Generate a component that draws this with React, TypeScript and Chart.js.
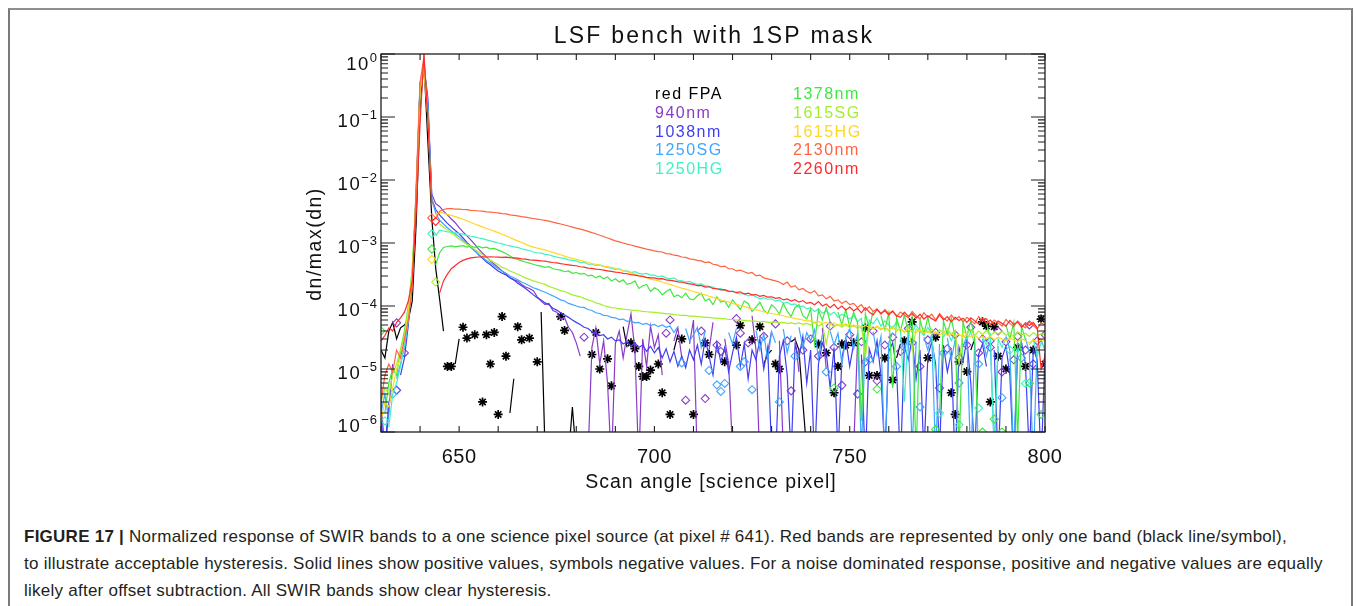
import React, { useEffect, useRef } from "react";
import { Chart, registerables } from "chart.js";

Chart.register(...registerables);

// Science-pixel axis: one sample per pixel, 630 … 800
const FIRST_PIXEL = 630;
const X_MIN = 630;
const X_MAX = 800;
const X_TICK_LABELS = [650, 700, 750, 800];
const Y_DECADES = [0, -1, -2, -3, -4, -5, -6];

// Normalized response dn/max(dn); negative entries are drawn as symbols at |value|
const RED_FPA = [
  2e-5, 1.5e-5, 4e-5, 5.5e-5, 3e-5, 4.5e-5, 5e-5, 6e-5, 1.2e-4, 2e-3,
  0.15, 0.72, 0.04, 2.5e-3, 4e-4, 1.3e-4, 4e-5, -1.1e-5, -1.1e-5, 1.2e-5,
  3e-5, -4.6e-5, -3.1e-5, -5e-7, -3.5e-5, -5e-7, -3e-6, -3.5e-5, -1.2e-5, -3.8e-5,
  -1.9e-6, -6.8e-5, -1.6e-5, 2e-6, 7e-6, -4.7e-5, -2.9e-5, -5e-7, -3.1e-5, -5e-7,
  -1.3e-5, 8e-5, 5e-7, -5e-7, -5e-7, -5e-7, -6.8e-5, -4.1e-5, 4e-7, 2.5e-6,
  4e-7, -5e-7, -5e-7, -5e-7, -1.7e-5, -3.8e-5, -1e-5, -5e-7, -1.45e-5, -5.4e-6,
  -5e-7, -5e-7, 4.7e-5, 2.2e-5, -2.6e-5, -2.1e-5, -1.1e-5, -7.6e-6, -7.6e-6, -9.6e-6,
  -5e-7, -1.2e-5, -4.2e-6, -5e-7, -1.9e-6, 2e-5, 3.5e-5, -3e-5, -5e-7, -5e-7,
  -1.9e-6, -5e-7, -5e-7, -2.6e-5, -1.7e-5, -5e-7, -5e-7, -5e-7, -1.3e-5, -5e-7,
  -5e-7, -2.4e-5, -4.9e-5, -5e-7, -5e-7, -2.9e-5, -5e-7, -4.7e-5, 1.2e-5, 1.7e-5,
  2e-5, -1.2e-5, -1e-5, -5e-7, -5e-7, 2.7e-5, 3e-5, 2e-5, 3e-6, 5e-7,
  -5e-7, -5e-7, -2.5e-5, -5e-7, -1.8e-5, -5e-7, -4.2e-6, -1.1e-5, -2.5e-5, -2.4e-5,
  -5e-7, -2.6e-5, -5e-7, -5e-7, -4.5e-5, -7.9e-6, -5e-7, -7.9e-6, -5e-7, -1.5e-5,
  -5e-7, -6.7e-6, 1.5e-5, 2.5e-5, -2.8e-5, -5e-7, -5.6e-5, -5e-7, -5e-7, -5e-7,
  -1.5e-5, -5e-7, -3.2e-5, -5e-7, -5e-7, -5e-7, -4.2e-6, -1.9e-6, -1.3e-5, -5e-7,
  -9.1e-6, 2e-5, 3e-5, -5e-7, -5.6e-5, -4.8e-5, -3e-6, -4.7e-5, -1.6e-5, -5e-7,
  -1e-5, -5e-7, -5e-7, -2.2e-5, -5e-7, -1.1e-5, -5e-7, -2e-5, -5e-7, -6.2e-5,
  -1.2e-5,
];

const NM940 = [
  3e-6, 5e-7, 2e-6, 1.2e-5, -5.4e-5, 1.5e-5, -1.8e-5, 8e-5, 3e-4, 5e-3,
  0.3, 0.7, 0.15, 6e-3, 4.2e-3, 3.8e-3, 3.2e-3, 2.8e-3, 2.4e-3, 2.1e-3,
  1.75e-3, 1.5e-3, 1.3e-3, 1.12e-3, 9.5e-4, 8e-4, 6.9e-4, 6e-4, 5.2e-4, 4.6e-4,
  4.1e-4, 3.6e-4, 3.2e-4, 2.8e-4, 2.6e-4, 2.5e-4, 2.2e-4, 2e-4, 1.9e-4, 1.75e-4,
  1.4e-4, 1.2e-4, 1.05e-4, 1.1e-4, 8.5e-5, 8e-5, 6.2e-5, 6.5e-5, 4.6e-5, 3.8e-5,
  2.6e-5, 1.6e-5, -3.2e-5, 4e-7, 2.2e-5, 4.5e-5, 1.2e-5, 2.8e-5, 6e-6, 3e-7,
  2.5e-5, 4e-5, 1.5e-5, 3.5e-5, 7.5e-5, 2e-5, 3e-7, 3e-5, 1.1e-5, 4.8e-5,
  2.2e-5, 3.5e-5, 8e-6, -3.7e-5, -6e-5, 2.8e-5, 4.5e-5, 1.5e-5, -3.2e-6, 2.5e-5,
  6e-5, 3e-7, -4e-5, -3.4e-6, 2e-5, 5.5e-5, -2.4e-5, -1.9e-5, 3e-5, 1.2e-5,
  5e-7, -6.3e-5, -3.7e-5, 3.5e-5, -2.6e-5, 7e-5, 2e-5, 3e-7, -3.3e-5, 1.8e-5,
  4e-5, -5.2e-5, 2.8e-5, 5e-7, -2.8e-5, -4.5e-6, 3.2e-5, 9e-6, -2e-5, 3e-7,
  -3e-5, 2.5e-5, -1.6e-5, 4.5e-5, 1e-5, -4.8e-5, -2.2e-5, 3e-5, -5.5e-6, 2e-5,
  -3.5e-5, 5e-7, 2.6e-5, -2.7e-5, -1.3e-5, 3e-5, -4e-5, -6.5e-6, 2.2e-5, -2.4e-5,
  4e-7, -3.2e-5, 1.8e-5, -1.9e-5, 3.5e-5, -4.4e-5, -2.6e-5, 5e-7, -1.1e-5, 2.6e-5,
  -2.9e-5, 2e-5, -3.8e-5, -5e-6, 3e-7, -2.1e-5, 2.8e-5, -3.5e-5, -1.5e-5, 5e-7,
  -2.4e-5, -4.6e-5, 2.5e-5, -1.8e-5, -3e-5, 5e-7, -2.2e-5, 1.6e-5, -4e-5, -9e-6,
  -2.7e-5, 3e-5, -1.4e-5, -3.3e-5, 5e-7, -2e-5, -5e-5, -1.2e-5, -2.8e-5, 5e-7,
  -3.5e-5,
];

const NM1038 = [
  1.5e-6, 5e-7, 3e-6, 4e-6, -4.6e-6, 8e-6, 1.5e-5, 5e-5, 2.5e-4, 6e-3,
  0.35, 0.65, 0.2, 5e-3, 3.4e-3, 2.8e-3, 2.4e-3, 2.05e-3, 1.8e-3, 1.58e-3,
  1.4e-3, 1.2e-3, 1.02e-3, 8.8e-4, 7.6e-4, 6.5e-4, 5.7e-4, 5e-4, 4.5e-4, 4e-4,
  3.6e-4, 3.3e-4, 3.1e-4, 2.8e-4, 2.6e-4, 2.3e-4, 2.1e-4, 1.9e-4, 1.7e-4, 1.5e-4,
  1.35e-4, 1.25e-4, 1.12e-4, 1.05e-4, 9.2e-5, 8.6e-5, 7.8e-5, 7.2e-5, 6.6e-5, 6e-5,
  5.5e-5, 5.1e-5, 4.6e-5, 4.4e-5, 3.9e-5, 3.7e-5, 3.4e-5, 3.5e-5, 3e-5, 3.2e-5,
  2.8e-5, 2.9e-5, 2.5e-5, 2.7e-5, 2.3e-5, 2.6e-5, 2.2e-5, 2.4e-5, 1.9e-5, 2.3e-5,
  1.8e-5, 2.2e-5, 1.5e-5, 2.1e-5, 1.3e-5, 1.9e-5, 1.1e-5, 1.6e-5, 1.05e-5, 2e-5,
  1.4e-5, 2.4e-5, 1.2e-5, 3e-5, 1.6e-5, 8e-6, 2.6e-5, 1.3e-5, 2.2e-5, 9e-6,
  1.8e-5, 3.2e-5, 1.1e-5, 2.5e-5, 7e-6, 2e-5, 1.4e-5, 3e-5, 1e-5, 2.2e-5,
  5e-7, 3e-7, 1.6e-5, 2.8e-5, 8e-6, 4e-7, 2.4e-5, 1.5e-5, 3.3e-5, 6e-6,
  2e-5, 3e-7, 1.2e-5, 2.6e-5, 1.8e-5, 5e-6, 2.2e-5, 4e-7, 1.5e-5, 3e-5,
  1.1e-5, 2.5e-5, -4e-6, 1.7e-5, 3e-7, 2.1e-5, 1.3e-5, 2.8e-5, 8e-6, 4e-7,
  1.9e-5, 2.6e-5, 1e-5, 3e-7, 2.3e-5, 1.4e-5, 3.1e-5, 7e-6, 2e-5, 4e-7,
  1.6e-5, 2.7e-5, 1.2e-5, 5e-7, 2.4e-5, 9e-6, 1.8e-5, 3e-7, 2.2e-5, 1.3e-5,
  2.9e-5, 6e-6, 4e-7, 1.7e-5, 2.5e-5, 1.1e-5, -2.8e-5, 2e-5, 3e-7, 1.5e-5,
  2.3e-5, 8e-6, 3e-7, 1.9e-5, 2.6e-5, 1.2e-5, 4e-7, 2.1e-5, 1.4e-5, 3e-7,
  1.8e-5,
];

const SG1250 = [
  2e-6, 4e-6, 1.5e-6, -4e-6, 7e-6, 1.2e-5, 2.2e-5, 6e-5, 2.8e-4, 5e-3,
  0.3, 0.68, 0.15, 5e-3, 3e-3, 2.3e-3, 2e-3, 1.75e-3, 1.55e-3, 1.4e-3,
  1.25e-3, 1.1e-3, 9.6e-4, 8.5e-4, 7.5e-4, 6.6e-4, 5.9e-4, 5.3e-4, 4.8e-4, 4.3e-4,
  3.9e-4, 3.6e-4, 3.3e-4, 3e-4, 2.8e-4, 2.6e-4, 2.4e-4, 2.25e-4, 2.1e-4, 1.95e-4,
  1.85e-4, 1.75e-4, 1.65e-4, 1.55e-4, 1.45e-4, 1.35e-4, 1.25e-4, 1.2e-4, 1.1e-4, 1.05e-4,
  1e-4, 9.6e-5, 9.5e-5, 8.8e-5, 8.5e-5, 7.8e-5, 7.6e-5, 7.1e-5, 7e-5, 6.6e-5,
  6.5e-5, 6.1e-5, 6.2e-5, 5.7e-5, 5.8e-5, 5.4e-5, 5.5e-5, 5.1e-5, 5.3e-5, 4.9e-5,
  5.1e-5, 4.7e-5, 5e-5, 4.6e-5, 4.8e-5, 3.8e-5, 4.7e-5, -1.25e-5, 4.4e-5, 2.8e-5,
  3.5e-5, 4.6e-5, 2.2e-5, 4e-5, -9.5e-6, 3.2e-5, -5.6e-6, -4.4e-6, -5.9e-6, 3.8e-5,
  2.5e-5, 4.4e-5, -1.1e-5, -1.3e-5, 3e-5, -4.7e-6, 4.1e-5, 2e-5, 3.6e-5, 1.4e-5,
  3.9e-5, 2.6e-5, -3e-6, 4.3e-5, 1.8e-5, 3.4e-5, -1.6e-5, 4.6e-5, 2.2e-5, 3.8e-5,
  2.8e-5, 4.2e-5, 1.5e-5, 3.5e-5, -9e-6, 4e-5, 2.4e-5, 3.7e-5, 1.2e-5, 3.1e-5,
  4.4e-5, 2.1e-5, 3.6e-5, 5e-7, 2.9e-5, -1.4e-5, 3.9e-5, 1.7e-5, 3.3e-5, 3e-7,
  2.6e-5, 3.8e-5, -1.1e-5, 3e-5, 1.9e-5, 3.5e-5, 5e-7, 2.7e-5, -2.5e-6, 3.2e-5,
  2e-5, 3.6e-5, 4e-7, 2.5e-5, -1.8e-5, 3.1e-5, 1.4e-5, 2.9e-5, -6e-6, 2.2e-5,
  3.4e-5, 3e-7, 2.6e-5, -1.2e-5, 3e-5, 1.6e-5, 2.8e-5, 5e-7, 2.3e-5, -3.5e-6,
  3.3e-5, 2e-5, 4e-7, 2.7e-5, -1.5e-5, 3.1e-5, 1.8e-5, 3e-7, 2.4e-5, 2.9e-5,
  2e-5,
];

const HG1250 = [
  2e-6, -1.5e-6, 1.2e-6, 4e-6, 6e-6, 1.1e-5, 2.5e-5, 6e-5, 2.8e-4, 6e-3,
  0.3, 0.7, 0.12, -1.4e-3, 1.3e-3, 1.6e-3, 1.55e-3, 1.5e-3, 1.48e-3, 1.45e-3,
  1.42e-3, 1.38e-3, 1.32e-3, 1.28e-3, 1.25e-3, 1.2e-3, 1.17e-3, 1.12e-3, 1.08e-3, 1.04e-3,
  1e-3, 9.7e-4, 9.3e-4, 9e-4, 8.7e-4, 8.5e-4, 8.1e-4, 7.8e-4, 7.6e-4, 7.2e-4,
  7e-4, 6.9e-4, 6.6e-4, 6.5e-4, 6.2e-4, 6e-4, 5.8e-4, 5.7e-4, 5.4e-4, 5.3e-4,
  5.2e-4, 4.9e-4, 4.9e-4, 4.6e-4, 4.6e-4, 4.4e-4, 4.5e-4, 4.2e-4, 4.1e-4, 4e-4,
  3.8e-4, 3.9e-4, 3.6e-4, 3.6e-4, 3.4e-4, 3.5e-4, 3.3e-4, 3.2e-4, 3.3e-4, 3.1e-4,
  3.1e-4, 2.9e-4, 3e-4, 2.8e-4, 2.7e-4, 2.8e-4, 2.55e-4, 2.5e-4, 2.4e-4, 2.45e-4,
  2.3e-4, 2.2e-4, 2.25e-4, 2.1e-4, 2.05e-4, 2e-4, 1.85e-4, 1.9e-4, 1.75e-4, 1.7e-4,
  1.72e-4, 1.6e-4, 1.55e-4, 1.58e-4, 1.45e-4, 1.5e-4, 1.4e-4, 1.3e-4, 1.36e-4, 1.28e-4,
  1.3e-4, 1.2e-4, 1.25e-4, 1.1e-4, 1.15e-4, 1.05e-4, 1.08e-4, 9.5e-5, 1e-4, 9e-5,
  9.4e-5, 8.2e-5, 9e-5, 7.6e-5, 8.4e-5, 7.2e-5, 8e-5, 6.6e-5, 7.4e-5, 6.8e-5,
  6.2e-5, 7e-5, 5.6e-5, 6.4e-5, 2e-5, 6e-5, 5.2e-5, 6.4e-5, 4.8e-5, 5.8e-5,
  5e-5, 4.4e-5, 5.6e-5, 4.2e-5, 3e-6, 4.8e-5, 3.8e-5, 5e-5, 4e-5, 3.4e-5,
  4.6e-5, 3.5e-5, 8e-6, -2e-6, 3.2e-5, 4e-5, 2.8e-5, 3.8e-5, -1.3e-6, 3.4e-5,
  3e-5, 3.8e-5, 2.6e-5, -2.4e-6, 3.2e-5, 2.4e-5, 3.5e-5, 5e-7, 3e-5, 2.2e-5,
  3.2e-5, -2e-5, 2.5e-5, 1.8e-5, 2.9e-5, -5.9e-6, 2.4e-5, 3e-5, 1.6e-5, 2.6e-5,
  2.2e-5,
];

const NM1378 = [
  -4e-5, 2e-6, 6e-6, 1e-5, 8e-6, 2e-5, 4e-5, 1e-4, 4e-4, 6e-3,
  0.3, 0.75, 0.12, -8e-4, 4.5e-4, 7e-4, 8.5e-4, 8.8e-4, 9e-4, 8.7e-4,
  8.9e-4, 9.1e-4, 8.6e-4, 9e-4, 8.5e-4, 8.8e-4, 8.4e-4, 8.6e-4, 8.1e-4, 8.2e-4,
  7.7e-4, 7.3e-4, 6.8e-4, 6.2e-4, 5.7e-4, 5.5e-4, 5.2e-4, 5e-4, 4.8e-4, 4.6e-4,
  4.4e-4, 4.3e-4, 4.1e-4, 4.2e-4, 3.9e-4, 3.8e-4, 3.7e-4, 3.5e-4, 3.6e-4, 3.3e-4,
  3.4e-4, 3.2e-4, 3.3e-4, 3e-4, 3.1e-4, 2.8e-4, 3e-4, 2.7e-4, 2.9e-4, 2.5e-4,
  2.7e-4, 2.4e-4, 2.6e-4, 2.2e-4, 2.3e-4, 2.5e-4, 1.9e-4, 2.1e-4, 2.2e-4, 1.7e-4,
  1.95e-4, 1.8e-4, 1.5e-4, 1.7e-4, 1.85e-4, 1.4e-4, 1.5e-4, 1.35e-4, 1.6e-4, 1.3e-4,
  1.25e-4, 1.45e-4, 1.6e-4, 1.2e-4, 1.3e-4, 1.05e-4, 1.4e-4, 1.15e-4, 1.2e-4, 9.5e-5,
  1.25e-4, 1.05e-4, 8.8e-5, 1.2e-4, 1.1e-4, 8.2e-5, 9.6e-5, 1.15e-4, 8.6e-5, 7.6e-5,
  1.05e-4, 9.2e-5, 7.4e-5, 1.1e-4, 8.3e-5, 6.8e-5, 9.5e-5, 1.05e-4, 7e-5, 6.2e-5,
  9e-5, 2.5e-5, 8.5e-5, 6e-5, 9.5e-5, 5.5e-5, -5e-6, 8e-5, 5e-5, 8.8e-5,
  4.6e-5, 8e-5, 5.5e-5, 1.5e-6, 7.5e-5, 4.4e-5, 8.2e-5, -4.8e-6, 7e-5, 4.2e-5,
  7.8e-5, 5e-6, 6.5e-5, 4e-5, 7.2e-5, 3.8e-5, 6.8e-5, 4e-7, 6e-5, 3.6e-5,
  6.6e-5, 3.4e-5, -1.1e-6, 2e-6, 5.8e-5, 3.5e-5, 6.4e-5, 3.2e-5, 5e-7, 5.6e-5,
  3.3e-5, 6e-5, 3e-5, 4e-7, -1e-6, 5.4e-5, 3.1e-5, -1.6e-6, 5.6e-5, -1e-6,
  5e-5, 3e-5, 5.5e-5, 8e-7, 4.8e-5, 2.9e-5, -6e-6, 5.2e-5, 4.5e-5, -1.9e-6,
  4.2e-5,
];

const SG1615 = [
  3e-6, 5e-6, 4e-6, 8e-6, 1.2e-5, 2e-5, 3.5e-5, 9e-5, 3e-4, 5e-3,
  0.28, 0.65, 0.1, 4e-3, -2.4e-4, 2e-3, 1.8e-3, 1.6e-3, 1.45e-3, 1.3e-3,
  1.15e-3, 1.05e-3, 9.6e-4, 8.8e-4, 7.9e-4, 7.2e-4, 6.5e-4, 5.9e-4, 5.3e-4, 4.9e-4,
  4.5e-4, 4.1e-4, 3.9e-4, 3.6e-4, 3.4e-4, 3.2e-4, 3e-4, 2.8e-4, 2.65e-4, 2.5e-4,
  2.4e-4, 2.3e-4, 2.2e-4, 2.05e-4, 1.95e-4, 1.85e-4, 1.75e-4, 1.7e-4, 1.6e-4, 1.5e-4,
  1.45e-4, 1.4e-4, 1.32e-4, 1.25e-4, 1.2e-4, 1.12e-4, 1.08e-4, 1.02e-4, 9.8e-5, 9.4e-5,
  9.3e-5, 9.1e-5, 8.9e-5, 8.8e-5, 8.6e-5, 8.5e-5, 8.4e-5, 8.2e-5, 8.1e-5, 8e-5,
  7.9e-5, 7.8e-5, 7.7e-5, 7.5e-5, 7.5e-5, 7.3e-5, 7.2e-5, 7.1e-5, 7.1e-5, 6.9e-5,
  6.9e-5, 6.8e-5, 6.7e-5, 6.6e-5, 6.6e-5, 6.4e-5, 6.4e-5, 6.3e-5, 6.3e-5, 6.1e-5,
  6.1e-5, 6e-5, 6e-5, 5.9e-5, 5.8e-5, 5.8e-5, 5.7e-5, 5.6e-5, 5.7e-5, 5.5e-5,
  5.5e-5, 5.6e-5, 5.4e-5, 5.5e-5, 5.3e-5, 5.4e-5, 5.2e-5, 5.4e-5, 5.1e-5, 5.3e-5,
  5e-5, 5.5e-5, 4.8e-5, 5.2e-5, 2.5e-5, 5.3e-5, 4.7e-5, 5.1e-5, 4.6e-5, 5.2e-5,
  4.5e-5, 5e-5, 4.4e-5, 4.9e-5, 1.5e-5, 4.8e-5, 4.3e-5, 4.7e-5, 4.2e-5, 4.6e-5,
  4.1e-5, 4.8e-5, 4e-5, 4.5e-5, 3.8e-5, 4.6e-5, 2e-5, 4.3e-5, 3.9e-5, 4.4e-5,
  3.8e-5, 4.3e-5, 3.6e-5, 4.2e-5, 3.7e-5, 4.4e-5, 3.5e-5, 4.1e-5, 1.2e-5, 4e-5,
  3.6e-5, 4.2e-5, 3.4e-5, 4e-5, 3.5e-5, 4.1e-5, 3.3e-5, 3.9e-5, 3.6e-5, 4e-5,
  3.4e-5, 3.8e-5, 3.2e-5, 3.9e-5, 3.5e-5, 3.7e-5, 3.3e-5, 3.8e-5, 3.4e-5, 3.6e-5,
  3.5e-5,
];

const HG1615 = [
  1.5e-6, 3e-6, 2.5e-6, 5e-6, 1e-5, 1.5e-5, 3e-5, 8e-5, 3.5e-4, 5e-3,
  0.25, 0.6, 0.1, -5.5e-4, 2.8e-3, 3.1e-3, 2.95e-3, 2.85e-3, 2.75e-3, 2.62e-3,
  2.5e-3, 2.38e-3, 2.25e-3, 2.12e-3, 2e-3, 1.9e-3, 1.8e-3, 1.7e-3, 1.62e-3, 1.54e-3,
  1.46e-3, 1.38e-3, 1.3e-3, 1.22e-3, 1.14e-3, 1.08e-3, 1.02e-3, 9.6e-4, 9e-4, 8.6e-4,
  8.3e-4, 8e-4, 7.8e-4, 7.4e-4, 7.1e-4, 6.8e-4, 6.5e-4, 6.2e-4, 5.9e-4, 5.7e-4,
  5.5e-4, 5.3e-4, 5.1e-4, 4.9e-4, 4.7e-4, 4.6e-4, 4.45e-4, 4.3e-4, 4.2e-4, 4.1e-4,
  3.95e-4, 3.8e-4, 3.65e-4, 3.5e-4, 3.35e-4, 3.2e-4, 3.05e-4, 2.95e-4, 2.8e-4, 2.7e-4,
  2.6e-4, 2.5e-4, 2.4e-4, 2.3e-4, 2.2e-4, 2.1e-4, 2e-4, 1.92e-4, 1.85e-4, 1.78e-4,
  1.7e-4, 1.63e-4, 1.56e-4, 1.5e-4, 1.43e-4, 1.37e-4, 1.31e-4, 1.25e-4, 1.2e-4, 1.15e-4,
  1.1e-4, 1.06e-4, 1.02e-4, 9.8e-5, 9.4e-5, 9e-5, 8.7e-5, 8.4e-5, 8.1e-5, 7.8e-5,
  7.6e-5, 7.4e-5, 7.2e-5, 7e-5, 6.7e-5, 6.6e-5, 6.3e-5, 6.2e-5, 6e-5, 5.8e-5,
  5.8e-5, 5.5e-5, 5.7e-5, 5.3e-5, 5.5e-5, 5.1e-5, 5.4e-5, 4.9e-5, 5.2e-5, 4.8e-5,
  5.1e-5, 4.7e-5, 5e-5, 4.5e-5, 4.9e-5, 4.6e-5, 4.4e-5, 4.8e-5, 4.3e-5, 4.6e-5,
  4.2e-5, 4.5e-5, 4.1e-5, 4.4e-5, 3.9e-5, 4.3e-5, 4e-5, 3.8e-5, 4.2e-5, 3.7e-5,
  4e-5, 3.6e-5, 3.9e-5, 3.5e-5, 3.8e-5, 3.4e-5, 3.7e-5, 3.3e-5, 3.6e-5, 3.2e-5,
  3.5e-5, 3.2e-5, 3.4e-5, 3.1e-5, 3.3e-5, 3e-5, 3.3e-5, 2.9e-5, 3.2e-5, 3e-5,
  2.8e-5, 3.1e-5, 2.9e-5, 2.7e-5, 3e-5, 2.8e-5, 2.6e-5, 2.9e-5, 2.7e-5, 2.9e-5,
  2.8e-5,
];

const NM2130 = [
  3e-6, 8e-6, 1.2e-5, 9e-6, 2e-5, 1.5e-5, 3e-5, 6e-5, 2e-4, 8e-3,
  0.35, 0.9, 0.1, -2.5e-3, 2.4e-3, 3.2e-3, 3.4e-3, 3.5e-3, 3.5e-3, 3.45e-3,
  3.45e-3, 3.4e-3, 3.38e-3, 3.3e-3, 3.28e-3, 3.22e-3, 3.2e-3, 3.12e-3, 3.08e-3, 3.05e-3,
  3e-3, 2.92e-3, 2.9e-3, 2.8e-3, 2.75e-3, 2.7e-3, 2.62e-3, 2.58e-3, 2.5e-3, 2.45e-3,
  2.4e-3, 2.34e-3, 2.28e-3, 2.22e-3, 2.14e-3, 2.07e-3, 2e-3, 1.93e-3, 1.86e-3, 1.79e-3,
  1.72e-3, 1.66e-3, 1.6e-3, 1.53e-3, 1.46e-3, 1.4e-3, 1.33e-3, 1.27e-3, 1.2e-3, 1.14e-3,
  1.08e-3, 1.04e-3, 1e-3, 9.6e-4, 9.3e-4, 8.9e-4, 8.6e-4, 8.3e-4, 8e-4, 7.8e-4,
  7.5e-4, 7.3e-4, 7.2e-4, 6.8e-4, 6.7e-4, 6.4e-4, 6.3e-4, 6e-4, 5.9e-4, 5.6e-4,
  5.5e-4, 5.3e-4, 5.2e-4, 4.9e-4, 5e-4, 4.6e-4, 4.5e-4, 4.2e-4, 4.3e-4, 3.9e-4,
  3.9e-4, 3.6e-4, 3.7e-4, 3.5e-4, 3.3e-4, 3.4e-4, 3e-4, 3.1e-4, 2.8e-4, 2.7e-4,
  2.6e-4, 2.5e-4, 2.4e-4, 2.2e-4, 2.4e-4, 2e-4, 2.1e-4, 1.8e-4, 1.9e-4, 1.7e-4,
  1.6e-4, 1.75e-4, 1.45e-4, 1.5e-4, 1.3e-4, 1.42e-4, 1.2e-4, 1.25e-4, 1.1e-4, 1.2e-4,
  1.05e-4, 1.1e-4, 9.5e-5, 1.05e-4, 8.5e-5, 9.8e-5, 8.2e-5, 9e-5, 7.4e-5, 8.8e-5,
  7.6e-5, 8.4e-5, 6.8e-5, 8e-5, 7.2e-5, 6.5e-5, 8.2e-5, 7e-5, 6.2e-5, 7.8e-5,
  6.6e-5, 7.4e-5, 6e-5, 7.6e-5, 6.4e-5, 5.8e-5, 7.2e-5, 6.1e-5, 6.8e-5, 5.6e-5,
  6.6e-5, 5.9e-5, 5.2e-5, 6.8e-5, 5.7e-5, 6.3e-5, 5.1e-5, 6e-5, 5.4e-5, 4.8e-5,
  6.1e-5, 5.3e-5, 4.7e-5, 5.8e-5, 5e-5, 4.5e-5, 5.6e-5, 4.9e-5, 4.3e-5, 5.4e-5,
  5e-5,
];

const NM2260 = [
  2.8e-5, 3.4e-5, 4.5e-5, 4e-5, 5.5e-5, 6.5e-5, 8e-5, 1.2e-4, 2.5e-4, 3e-3,
  0.08, 1.0, 0.09, 4e-3, -2.2e-3, 1.6e-4, 2.5e-4, 3.2e-4, 3.9e-4, 4.4e-4,
  4.9e-4, 5.3e-4, 5.6e-4, 5.8e-4, 5.9e-4, 6e-4, 6.05e-4, 6e-4, 6.05e-4, 6e-4,
  5.95e-4, 5.9e-4, 5.95e-4, 5.85e-4, 5.8e-4, 5.75e-4, 5.6e-4, 5.55e-4, 5.4e-4, 5.35e-4,
  5.3e-4, 5.2e-4, 5.15e-4, 5e-4, 4.9e-4, 4.85e-4, 4.7e-4, 4.6e-4, 4.5e-4, 4.4e-4,
  4.35e-4, 4.2e-4, 4.15e-4, 4e-4, 3.95e-4, 3.85e-4, 3.8e-4, 3.7e-4, 3.6e-4, 3.55e-4,
  3.45e-4, 3.4e-4, 3.3e-4, 3.25e-4, 3.15e-4, 3.1e-4, 3e-4, 2.95e-4, 2.85e-4, 2.8e-4,
  2.8e-4, 2.7e-4, 2.72e-4, 2.6e-4, 2.55e-4, 2.5e-4, 2.42e-4, 2.4e-4, 2.3e-4, 2.25e-4,
  2.2e-4, 2.1e-4, 2.12e-4, 2e-4, 2.02e-4, 1.9e-4, 1.88e-4, 1.8e-4, 1.82e-4, 1.72e-4,
  1.7e-4, 1.64e-4, 1.68e-4, 1.55e-4, 1.6e-4, 1.5e-4, 1.52e-4, 1.42e-4, 1.47e-4, 1.38e-4,
  1.4e-4, 1.32e-4, 1.36e-4, 1.25e-4, 1.3e-4, 1.2e-4, 1.26e-4, 1.15e-4, 1.22e-4, 1.1e-4,
  1.14e-4, 1.05e-4, 1.18e-4, 1e-4, 1.08e-4, 9.4e-5, 1.06e-4, 9e-5, 1e-4, 8.6e-5,
  9.6e-5, 8.4e-5, 9.2e-5, 7.8e-5, 9.4e-5, 8e-5, 7.2e-5, 8.8e-5, 7.6e-5, 8.4e-5,
  7.2e-5, 8.2e-5, 7e-5, 6.6e-5, 8e-5, 6.9e-5, 7.6e-5, 6.4e-5, 7.4e-5, 6.2e-5,
  7e-5, 6.3e-5, 5.8e-5, 7.2e-5, 6e-5, 6.8e-5, 5.6e-5, 6.6e-5, 5.9e-5, 6.4e-5,
  5.5e-5, 6.5e-5, 5.8e-5, 5.2e-5, 6.3e-5, 5.4e-5, 6e-5, 5e-5, 5.8e-5, 5.3e-5,
  4.8e-5, 5.9e-5, 5.1e-5, 5.6e-5, 4.6e-5, 5.4e-5, 4.9e-5, 5.5e-5, 4.5e-5, 1e-5,
  1.6e-5,
];

type Band = {
  label: string;
  color: string;
  values: number[];
  symbol: "star" | "rectRot";
};

// Plotting order as overplotted: red FPA first, 2260nm last (on top)
const BANDS: Band[] = [
  { label: "red FPA", color: "#000000", values: RED_FPA, symbol: "star" },
  { label: "940nm", color: "#8a3cc8", values: NM940, symbol: "rectRot" },
  { label: "1038nm", color: "#3f3ff0", values: NM1038, symbol: "rectRot" },
  { label: "1250SG", color: "#3fa6ff", values: SG1250, symbol: "rectRot" },
  { label: "1250HG", color: "#3ff2c4", values: HG1250, symbol: "rectRot" },
  { label: "1378nm", color: "#3fe83f", values: NM1378, symbol: "rectRot" },
  { label: "1615SG", color: "#a6ee2c", values: SG1615, symbol: "rectRot" },
  { label: "1615HG", color: "#ffd824", values: HG1615, symbol: "rectRot" },
  { label: "2130nm", color: "#ff6440", values: NM2130, symbol: "rectRot" },
  { label: "2260nm", color: "#ff2a2a", values: NM2260, symbol: "rectRot" },
];

const CANVAS_W = 1356;
const CANVAS_H = 500;
const PLOT = { left: 381, top: 54, right: 1045, bottom: 432 };
const IDL_FONT = '"Liberation Sans", Arial, sans-serif';

function setSpacing(ctx: CanvasRenderingContext2D, px: number) {
  (ctx as any).letterSpacing = `${px}px`;
}

// Boxed IDL-style frame: inward ticks on all four sides plus all text
const idlFrame = {
  id: "idlFrame",
  afterDatasetsDraw(chart: any) {
    const { ctx, chartArea: a, scales } = chart;
    const xs = scales.x;
    const ys = scales.y;
    ctx.save();
    ctx.strokeStyle = "#1e1e1e";
    ctx.lineWidth = 1.3;
    ctx.strokeRect(a.left, a.top, a.right - a.left, a.bottom - a.top);

    ctx.lineWidth = 1.1;
    ctx.beginPath();
    for (let v = X_MIN; v <= X_MAX; v += 10) {
      const px = xs.getPixelForValue(v);
      ctx.moveTo(px, a.bottom);
      ctx.lineTo(px, a.bottom - 6);
      ctx.moveTo(px, a.top);
      ctx.lineTo(px, a.top + 6);
    }
    for (const d of Y_DECADES) {
      const major = ys.getPixelForValue(Math.pow(10, d));
      ctx.moveTo(a.left, major);
      ctx.lineTo(a.left + 14, major);
      ctx.moveTo(a.right, major);
      ctx.lineTo(a.right - 14, major);
      if (d < 0) {
        for (let m = 2; m <= 9; m++) {
          const py = ys.getPixelForValue(m * Math.pow(10, d));
          ctx.moveTo(a.left, py);
          ctx.lineTo(a.left + 7, py);
          ctx.moveTo(a.right, py);
          ctx.lineTo(a.right - 7, py);
        }
      }
    }
    ctx.stroke();

    ctx.fillStyle = "#111";
    // x tick labels
    ctx.font = `20px ${IDL_FONT}`;
    setSpacing(ctx, 0.5);
    ctx.textAlign = "center";
    ctx.textBaseline = "alphabetic";
    for (const v of X_TICK_LABELS) {
      ctx.fillText(String(v), xs.getPixelForValue(v), 463);
    }

    // y tick labels 10^d
    for (const d of Y_DECADES) {
      const tickY = ys.getPixelForValue(Math.pow(10, d));
      let mid = tickY + 3;
      if (d === 0) mid = 63;
      if (d === -6) mid = 425;
      const exp = d === 0 ? "0" : "\u2212" + String(-d);
      ctx.font = `13px ${IDL_FONT}`;
      setSpacing(ctx, 1);
      ctx.textAlign = "right";
      const ew = ctx.measureText(exp).width;
      ctx.fillText(exp, 378, mid - 1.5);
      ctx.font = `18.5px ${IDL_FONT}`;
      setSpacing(ctx, 1.5);
      ctx.fillText("10", 378 - ew, mid + 6.5);
    }

    // title
    ctx.font = `23px ${IDL_FONT}`;
    setSpacing(ctx, 2.2);
    ctx.textAlign = "center";
    ctx.fillText("LSF bench with 1SP mask", 714, 43);

    // axis titles
    ctx.font = `19.5px ${IDL_FONT}`;
    setSpacing(ctx, 1.0);
    ctx.fillText("Scan angle [science pixel]", 711, 488);
    ctx.save();
    ctx.translate(321, 244);
    ctx.rotate(-Math.PI / 2);
    setSpacing(ctx, 1.5);
    ctx.fillText("dn/max(dn)", 0, 0);
    ctx.restore();

    // band legend in two columns
    ctx.font = `16px ${IDL_FONT}`;
    setSpacing(ctx, 1.5);
    ctx.textAlign = "left";
    const rows = [99, 118, 137, 155, 174];
    BANDS.forEach((b, i) => {
      const col = i < 5 ? 655 : 793;
      ctx.fillStyle = b.color;
      ctx.fillText(b.label, col, rows[i % 5]);
    });
    ctx.restore();
  },
};

function LsfChart() {
  const ref = useRef<HTMLCanvasElement | null>(null);

  useEffect(() => {
    if (!ref.current) return;
    const datasets: any[] = [];
    BANDS.forEach((b, i) => {
      const order = BANDS.length - i;
      datasets.push({
        label: b.label,
        data: b.values.map((v, k) => ({ x: FIRST_PIXEL + k, y: v > 0 ? v : null })),
        borderColor: b.color,
        borderWidth: 1.2,
        pointRadius: 0,
        tension: 0,
        spanGaps: false,
        fill: false,
        order,
      });
      datasets.push({
        label: `${b.label} negative`,
        data: b.values.map((v, k) => ({ x: FIRST_PIXEL + k, y: v < 0 ? -v : null })),
        showLine: false,
        pointStyle: b.symbol,
        pointRadius: b.symbol === "star" ? 4.5 : 4,
        pointBorderColor: b.color,
        pointBackgroundColor: "rgba(0,0,0,0)",
        pointBorderWidth: b.symbol === "star" ? 1.7 : 1.1,
        order,
      });
    });

    const chart = new Chart(ref.current, {
      type: "line",
      data: { datasets },
      options: {
        animation: false,
        responsive: false,
        devicePixelRatio: 1,
        events: [],
        layout: {
          padding: {
            left: PLOT.left,
            top: PLOT.top,
            right: CANVAS_W - PLOT.right,
            bottom: CANVAS_H - PLOT.bottom,
          },
        },
        scales: {
          x: { type: "linear", min: X_MIN, max: X_MAX, display: false },
          y: { type: "logarithmic", min: 1e-6, max: 1, display: false },
        },
        plugins: {
          legend: { display: false },
          tooltip: { enabled: false },
          title: { display: false },
        },
      } as any,
      plugins: [idlFrame],
    });
    return () => chart.destroy();
  }, []);

  return (
    <canvas
      ref={ref}
      width={CANVAS_W}
      height={CANVAS_H}
      style={{ position: "absolute", left: 0, top: 0, width: CANVAS_W, height: CANVAS_H }}
    />
  );
}

const CAPTION_LINES = [
  "Normalized response of SWIR bands to a one science pixel source (at pixel # 641). Red bands are represented by only one band (black line/symbol),",
  "to illustrate acceptable hysteresis. Solid lines show positive values, symbols negative values. For a noise dominated response, positive and negative values are equally",
  "likely after offset subtraction. All SWIR bands show clear hysteresis.",
];

export default function App() {
  return (
    <>
      <style>{`html, body { overflow: hidden; }`}</style>
      <div
        style={{
          position: "absolute",
          left: 8,
          top: 8,
          width: 1345,
          height: 640,
          boxSizing: "border-box",
          borderTop: "2px solid #8f8f8f",
          borderLeft: "2px solid #7a7a7a",
          borderRight: "2px solid #7a7a7a",
        }}
      />
      <LsfChart />
      <div
        style={{
          position: "absolute",
          left: 24,
          top: 524,
          fontFamily: '"Liberation Sans", Arial, sans-serif',
          fontSize: 17,
          letterSpacing: "0.25px",
          lineHeight: "26.8px",
          color: "#231f20",
          whiteSpace: "nowrap",
        }}
      >
        <div>
          <b>FIGURE 17 |</b> {CAPTION_LINES[0]}
        </div>
        <div>{CAPTION_LINES[1]}</div>
        <div>{CAPTION_LINES[2]}</div>
      </div>
    </>
  );
}
